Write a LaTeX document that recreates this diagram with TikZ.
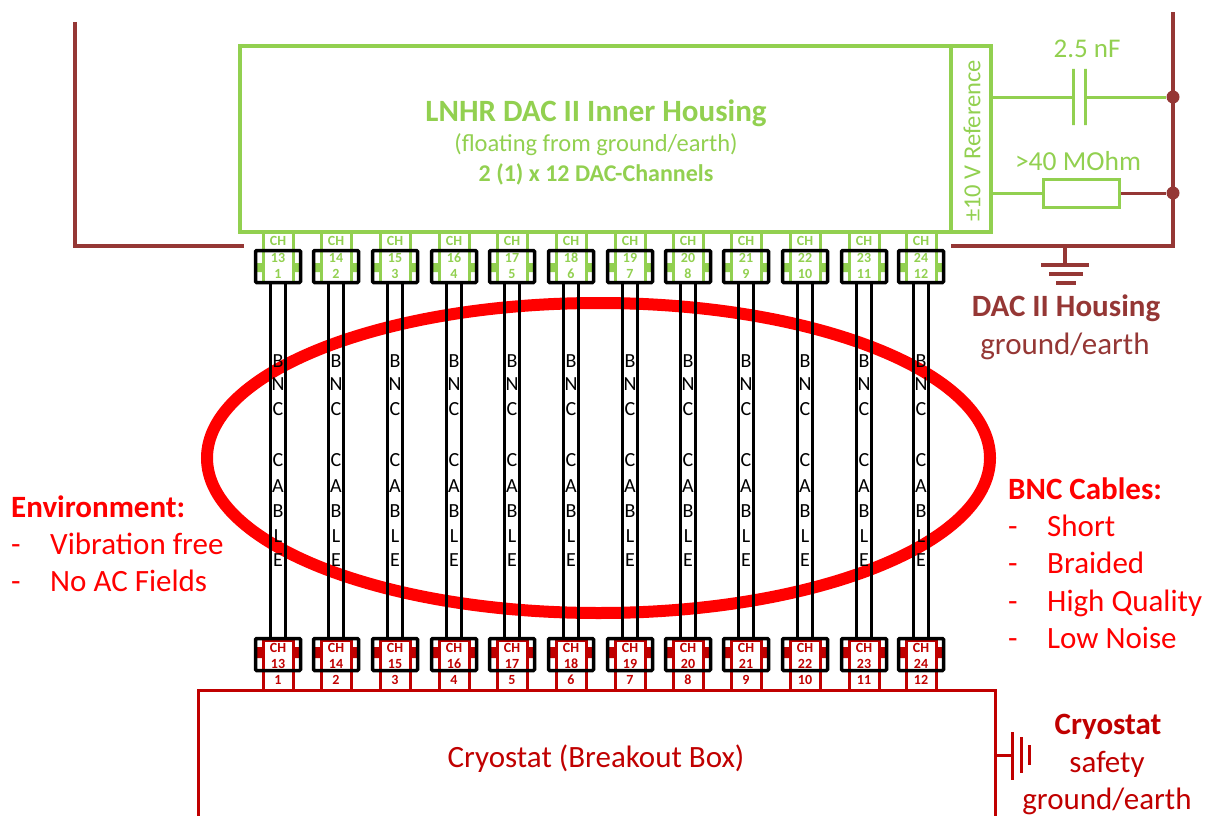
\documentclass[tikz,border=0pt]{standalone}
\usepackage{fontspec}
\setmainfont{Carlito}
\usetikzlibrary{shapes.geometric}
\definecolor{lgreen}{HTML}{92D050}
\definecolor{dred}{HTML}{953735}
\definecolor{cred}{HTML}{C00000}
\definecolor{pred}{HTML}{FF0000}
\newcommand{\fs}[1]{\fontsize{#1}{#1}\selectfont}
\tikzset{
  lab/.style={inner sep=0pt,align=center},
  listlab/.style={inner sep=0pt,anchor=base west,text=pred,font=\fs{31}},
  conbox/.style={draw=black,line width=3.5pt,rounded corners=1pt,minimum width=45pt,minimum height=32pt,inner sep=0pt},
  cable/.style={black,line width=3.5pt},
  glin/.style={lgreen,line width=3pt},
  dlin/.style={dred,line width=4.5pt},
  rlin/.style={cred,line width=3pt},
  dot/.style={circle,fill=dred,inner sep=0pt,minimum size=13pt},
  plate/.style={inner sep=0pt,minimum width=0pt,minimum height=56pt,draw=lgreen,line width=3pt},
  pinlab/.style={font=\fs{14}\bfseries,inner sep=0pt},
  bnc/.style={font=\fs{20},inner sep=0pt,text=black},
}
\begin{document}
\begin{tikzpicture}[x=1pt,y=-1pt]
\useasboundingbox (0,0) rectangle (1207,816);
% housing
\node[draw=lgreen,line width=4.5pt,minimum width=711pt,minimum height=186pt,inner sep=0pt] (inner) at (595.5,139) {};
\node[draw=lgreen,line width=4.5pt,minimum width=40pt,minimum height=186pt,inner sep=0pt] (ref) at (971,139) {};
\node[lab,rotate=90,text=lgreen,font=\fs{24.5}] (reflab) at (972,141) {±10 V Reference};
\node[lab,text=lgreen,font=\fs{31}\bfseries] (t1) at (596,113) {LNHR DAC II Inner Housing};
\node[lab,text=lgreen,font=\fs{24.5}] (t2) at (596,145) {(floating from ground/earth)};
\node[lab,text=lgreen,font=\fs{24}\bfseries] (t3) at (596,174) {2 (1) x 12 DAC-Channels};
% ellipse
\node[draw=pred,line width=12pt,ellipse,minimum width=783pt,minimum height=310pt,inner sep=0pt] (env) at (598.5,458) {};
% connectors
\foreach \i/\x/\a/\b [count=\n] in {1/278/13/1,2/336/14/2,3/395/15/3,4/454/16/4,5/512/17/5,6/571/18/6,7/630/19/7,8/688/20/8,9/746/21/9,10/805/22/10,11/864/23/11,12/921/24/12}{
  \coordinate (tt\i) at (\x,233);
  \draw[glin] ([xshift=-15pt]tt\i) -- ++(0,49) -- ++(30,0) -- ++(0,-49);
  \fill[lgreen] (\x-21,263) rectangle (\x-15,272) (\x+15,263) rectangle (\x+21,272);
  \node[pinlab,text=lgreen] at (\x,241) {CH};
  \node[pinlab,text=lgreen] at (\x,258) {\a};
  \node[pinlab,text=lgreen] at (\x,274) {\b};
  \node[conbox] (top\i) at (\x,266.5) {};
  % bottom
  \coordinate (bb\i) at (\x,690);
  \draw[rlin] ([xshift=-15pt]bb\i) -- ++(0,-50) -- ++(30,0) -- ++(0,50);
  \fill[cred] (\x-21,647) rectangle (\x-15,658) (\x+15,647) rectangle (\x+21,658);
  \node[pinlab,text=cred] at (\x,648) {CH};
  \node[pinlab,text=cred] at (\x,664) {\a};
  \node[pinlab,text=cred] at (\x,680) {\b};
  \node[conbox] (bot\i) at (\x,654.5) {};
  % cable
  \draw[cable] ([xshift=-7.5pt]top\i.south) -- ([xshift=-7.5pt]bot\i.north);
  \draw[cable] ([xshift=7.5pt]top\i.south) -- ([xshift=7.5pt]bot\i.north);
  \foreach \l/\y in {B/361,N/384,C/409,C/460,A/486,B/511,L/536,E/560}{
    \node[bnc] at (\x,\y) {\l};
  }
}
% dark red housing
\coordinate (hl1) at (75,22);
\coordinate (hl2) at (244,246);
\draw[dlin] (hl1) |- (hl2);
\coordinate (hr1) at (951,246);
\coordinate (hr2) at (1173,12);
\draw[dlin] (hr1) -| (hr2);
\node[dot] (j1) at (1173,97) {};
\node[dot] (j2) at (1173,193) {};
% capacitor
\node[plate] (cp1) at (1073,97) {};
\node[plate] (cp2) at (1085,97) {};
\draw[glin] (cp1.center) -- (cp1.center -| ref.east);
\draw[glin] (cp2.center) -- (j1);
\node[lab,text=lgreen,font=\fs{27}] (capl) at (1087,49) {2.5 nF};
% resistor
\node[draw=lgreen,line width=3pt,minimum width=76pt,minimum height=28pt,inner sep=0pt] (res) at (1081.5,193) {};
\draw[glin] (res.west) -- (res.west -| ref.east);
\draw[dred,line width=3pt] (res.east) -- (j2);
\node[lab,text=lgreen,font=\fs{27.5}] (resl) at (1078,161) {>40 MOhm};
% earth
\coordinate (g0) at (1065,246);
\coordinate (g1) at (1065,265);
\draw[dlin] (g0) -- (g1);
\draw[dlin] (1041,265) -- (1089,265);
\draw[dlin] (1049,274) -- (1083,274);
\draw[dlin] (1056,283) -- (1076,283);
\node[lab,text=dred,font=\fs{31}\bfseries] (hs1) at (1066,308) {DAC II Housing};
\node[lab,text=dred,font=\fs{31}] (hs2) at (1065,346) {ground/earth};
% cryostat
\coordinate (c1) at (198,816);
\coordinate (c2) at (995,816);
\draw[rlin] (c1) -- (198,690) -- (995,690) -- (c2);
\node[lab,text=cred,font=\fs{31}] (cr) at (596,759) {Cryostat (Breakout Box)};
\coordinate (cg0) at (995,755);
\draw[rlin] (cg0) -- (1012,755);
\draw[rlin] (1012,732) -- (1012,780);
\draw[rlin] (1021,737) -- (1021,773);
\draw[rlin] (1029,745) -- (1029,765);
\node[lab,text=cred,font=\fs{31}\bfseries] (cs1) at (1108,727) {Cryostat};
\node[lab,text=cred,font=\fs{31}] (cs2) at (1107,764) {safety};
\node[lab,text=cred,font=\fs{31}] (cs3) at (1107,801) {ground/earth};
% environment
\node[listlab,font=\fs{31}\bfseries] (e1) at (11,517) {Environment:};
\node[listlab] (e2a) at (11,554) {-};
\node[listlab] (e2) at (50,554) {Vibration free};
\node[listlab] (e3a) at (11,591) {-};
\node[listlab] (e3) at (50,591) {No AC Fields};
% cables text
\node[listlab,font=\fs{31}\bfseries] (b0) at (1008,499) {BNC Cables:};
\foreach \t/\y [count=\k] in {Short/536,Braided/573,High Quality/611,Low Noise/648}{
  \node[listlab] (bd\k) at (1008,\y) {-};
  \node[listlab] (b\k) at (1047,\y) {\t};
}
\end{tikzpicture}
\end{document}
